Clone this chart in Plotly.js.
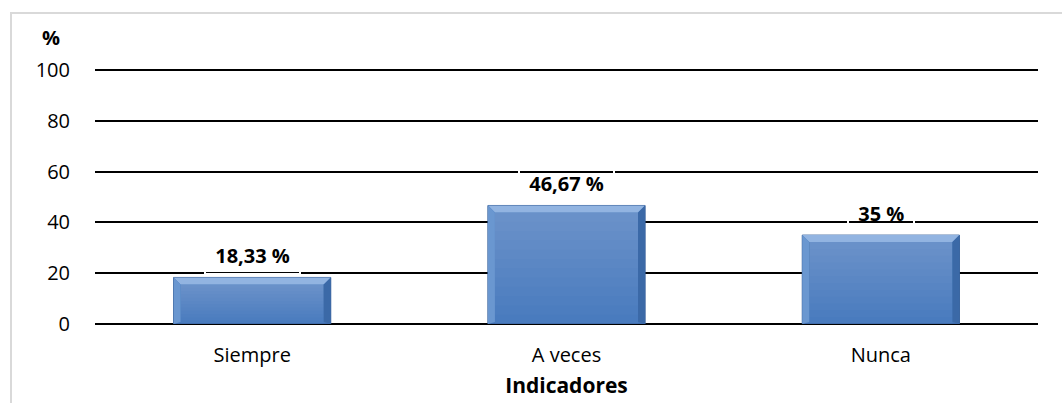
<!DOCTYPE html>
<html>
<head>
<meta charset="utf-8">
<script src="https://cdn.plot.ly/plotly-3.0.1.min.js"></script>
<style>
  html, body { margin: 0; padding: 0; background: #fff; }
  #frame { position: absolute; left: 10px; top: 12px; width: 1052px; height: 391px;
           border-left: 2px solid #d9d9d9; border-top: 2px solid #d9d9d9; box-sizing: border-box; }
  #chart { position: absolute; left: 0; top: 0; width: 1062px; height: 403px; }
</style>
</head>
<body>
<div id="frame"></div>
<div id="chart"></div>
<script>
// Survey answers per indicator (percent)
const categories = ["Siempre", "A veces", "Nunca"];
const values = [18.33, 46.67, 35];
const labels = ["18,33 %", "46,67 %", "35 %"];
const yTicks = [0, 20, 40, 60, 80, 100];

const W = 1062, H = 403;
const margin = { l: 95, r: 24, t: 69, b: 79 };
const barWidth = 0.5;
const yTop = 100.4;
const plotW = W - margin.l - margin.r;
const plotH = H - margin.t - margin.b;

// bevel size in pixels converted to axis units
const bev = 7;
const dx = bev / (plotW / categories.length);
const dy = bev / (plotH / yTop);

const shapes = [];
values.forEach((v, i) => {
  const x0 = i - barWidth / 2, x1 = i + barWidth / 2;
  const ddy = Math.min(dy, v / 2);
  // vertical shading on the face: stacked translucent bands, lightest at the top
  const nBands = 12;
  for (let k = 1; k <= nBands; k++) {
    const yb = (v - ddy) * (1 - k / nBands);
    shapes.push({ type: "rect", xref: "x", yref: "y", layer: "above", line: { width: 0 },
      fillcolor: "rgba(255,255,255,0.018)",
      x0: x0 + dx, x1: x1 - dx, y0: yb, y1: v - ddy });
  }
  // top bevel (light)
  shapes.push({ type: "path", xref: "x", yref: "y", layer: "above", line: { width: 0 },
    fillcolor: "#92b4e1",
    path: `M ${x0},${v} L ${x1},${v} L ${x1 - dx},${v - ddy} L ${x0 + dx},${v - ddy} Z` });
  // left bevel
  shapes.push({ type: "path", xref: "x", yref: "y", layer: "above", line: { width: 0 },
    fillcolor: "#6a97d0",
    path: `M ${x0},0 L ${x0},${v} L ${x0 + dx},${v - ddy} L ${x0 + dx},${ddy * 0.3} Z` });
  // right bevel (shade)
  shapes.push({ type: "path", xref: "x", yref: "y", layer: "above", line: { width: 0 },
    fillcolor: "#3b69a7",
    path: `M ${x1},0 L ${x1},${v} L ${x1 - dx},${v - ddy} L ${x1 - dx},${ddy * 0.3} Z` });
});

const trace = {
  type: "bar",
  x: categories,
  y: values,
  width: barWidth,
  marker: { color: "#4679bd", line: { color: "#345d96", width: 1 } },
  hoverinfo: "skip"
};

const annotations = values.map((v, i) => ({
  x: categories[i], y: v, xref: "x", yref: "y",
  text: "\u00a0" + labels[i] + "\u00a0",
  showarrow: false, yanchor: "bottom", yshift: 2,
  font: { family: "Open Sans", size: 20, color: "#000", weight: "bold" },
  bordercolor: "#ffffff", borderwidth: 2, borderpad: 4
}));

annotations.push({
  xref: "paper", yref: "paper",
  x: (51 - margin.l) / plotW, y: (H - margin.b - 37) / plotH,
  xanchor: "center", yanchor: "middle",
  text: "%", showarrow: false,
  font: { family: "Open Sans", size: 20, color: "#000", weight: "bold" }
});

const layout = {
  width: W, height: H,
  margin: margin,
  paper_bgcolor: "rgba(0,0,0,0)",
  plot_bgcolor: "rgba(0,0,0,0)",
  showlegend: false,
  font: { family: "Open Sans", size: 20, color: "#000" },
  xaxis: {
    type: "category",
    showgrid: false, showline: false, zeroline: false,
    ticks: "", ticklabelstandoff: 17,
    tickfont: { family: "Open Sans", size: 20, color: "#000" },
    title: { text: "Indicadores", standoff: 11,
             font: { family: "Open Sans", size: 21, color: "#000", weight: "bold" } }
  },
  yaxis: {
    range: [0, yTop],
    tickvals: yTicks,
    showgrid: true, gridcolor: "#000", gridwidth: 2,
    zeroline: true, zerolinecolor: "#000", zerolinewidth: 2,
    showline: false, ticks: "", ticklabelstandoff: 24,
    tickfont: { family: "Open Sans", size: 20, color: "#000" }
  },
  shapes: shapes,
  annotations: annotations
};

Plotly.newPlot("chart", [trace], layout, { staticPlot: true, displayModeBar: false });
</script>
</body>
</html>
